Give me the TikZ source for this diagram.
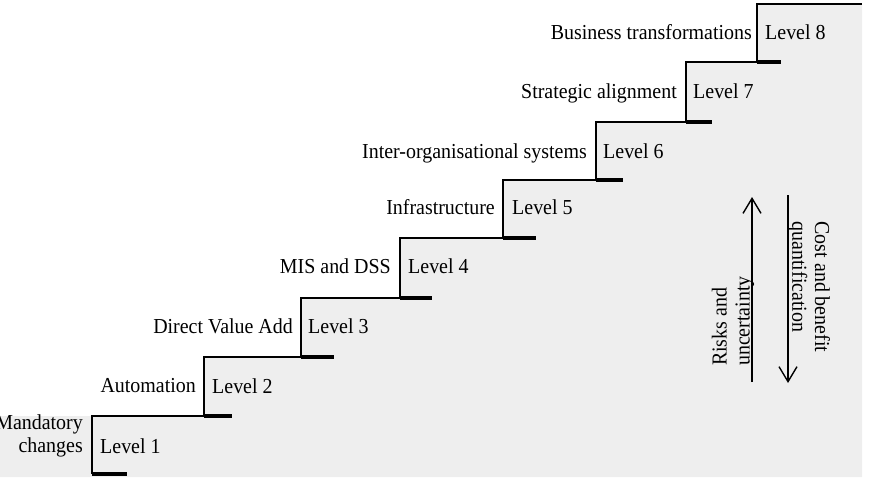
\documentclass[tikz,border=0pt]{standalone}
\usepackage{fontspec}
\setmainfont{Liberation Serif}[FakeStretch=0.935]
\usetikzlibrary{arrows.meta}
\definecolor{stairgray}{RGB}{238,238,238}
\begin{document}
\begin{tikzpicture}[x=0.03cm,y=-0.03cm,
  stairline/.style={line width=1.2pt, line join=miter},
  tickline/.style={line width=2.6pt},
  txt/.style={inner sep=0pt, font=\fontsize{18.2}{19.5}\selectfont},
  lvl/.style={txt, anchor=base west},
  lbl/.style={txt, anchor=base east},
  arr/.style={line width=1.2pt, -{Straight Barb[length=0.45cm,width=0.54cm]}}]
\useasboundingbox (0,0) rectangle (869,494);
% gray stair area
\fill[stairgray] (0,477) -- (0,416) -- (204,416) -- (204,357) -- (301,357) -- (301,298)
  -- (400,298) -- (400,238) -- (503,238) -- (503,180) -- (596,180) -- (596,122)
  -- (686,122) -- (686,62) -- (757,62) -- (757,4) -- (862,4) -- (862,477) -- cycle;
% stair outline
\draw[stairline] (92,474) -- (92,416) -- (204,416) -- (204,357) -- (301,357) -- (301,298)
  -- (400,298) -- (400,238) -- (503,238) -- (503,180) -- (596,180) -- (596,122)
  -- (686,122) -- (686,62) -- (757,62) -- (757,4) -- (862,4);
% thick bottom ticks
\draw[tickline] (91.5,474) -- (127,474);
\draw[tickline] (203.5,416) -- (232,416);
\draw[tickline] (300.5,357) -- (334,357);
\draw[tickline] (399.5,298) -- (432,298);
\draw[tickline] (502.5,238) -- (536,238);
\draw[tickline] (595.5,180) -- (623,180);
\draw[tickline] (685.5,122) -- (712,122);
\draw[tickline] (756.5,62) -- (781,62);
% level labels
\node[lvl] (v1) at (100,453) {Level 1};
\node[lvl] (v2) at (212,393) {Level 2};
\node[lvl] (v3) at (308,333) {Level 3};
\node[lvl] (v4) at (408,273) {Level 4};
\node[lvl] (v5) at (512,214) {Level 5};
\node[lvl] (v6) at (603,158) {Level 6};
\node[lvl] (v7) at (693,98) {Level 7};
\node[lvl] (v8) at (765,39) {Level 8};
% step names
\node[lbl, align=right] (t1) at (83,452) {Mandatory\\changes};
\node[lbl] (t2) at (196,392) {Automation};
\node[lbl] (t3) at (293,333) {Direct Value Add};
\node[lbl] (t4) at (391,273) {MIS and DSS};
\node[lbl] (t5) at (495,214) {Infrastructure};
\node[lbl] (t6) at (587,158) {Inter-organisational systems};
\node[lbl] (t7) at (677,98) {Strategic alignment};
\node[lbl] (t8) at (752,39) {Business transformations};
% arrows
\coordinate (ru1) at (752,382);
\coordinate (ru2) at (752,197);
\coordinate (cd1) at (788,195);
\coordinate (cd2) at (788,383);
\draw[arr] (ru1) -- (ru2);
\draw[arr] (cd1) -- (cd2);
\node[txt, rotate=90, align=left] (risk) at (733,321) {Risks and\\uncertainty};
\node[txt, rotate=-90, align=left] (cost) at (809,287) {Cost and benefit\\quantification};
\end{tikzpicture}
\end{document}
